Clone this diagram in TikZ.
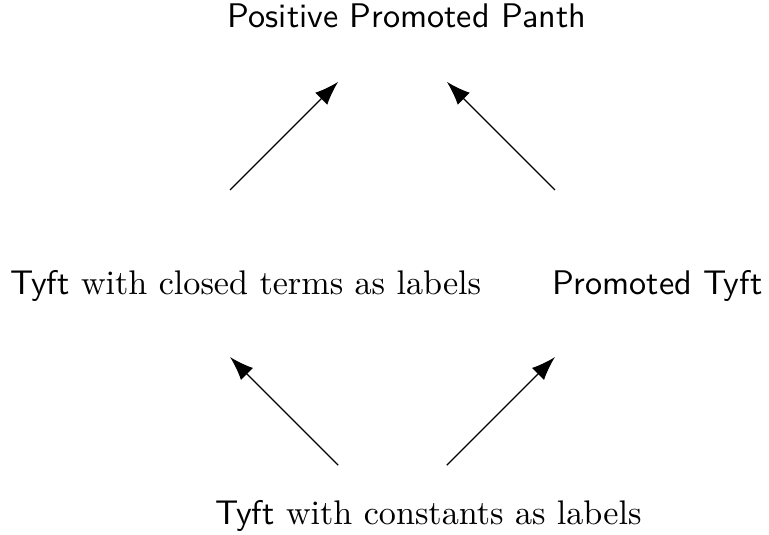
\documentclass[tikz,border=0pt]{standalone}
\usepackage{amsmath}
\usepackage{tikz}
\usetikzlibrary{arrows.meta}
\newcommand{\Tyft}{\textsf{Tyft}}

\begin{document}
\begin{tikzpicture}[>={Latex[length=7pt,width=5pt]}, x=0.2928pt, y=0.2928pt, lbl/.style={inner sep=0pt}]
			\useasboundingbox (0,0) rectangle (769,535);
			\coordinate (top) at (392.5,507.5);
			\coordinate (left) at (146.5,261.5);
			\coordinate (right) at (638.5,261.5);
			\coordinate (bottom) at (392.5,15.5);
			\node[lbl, anchor=base] (ppanth) at (407,507) {\textsf{Positive Promoted Panth}};
			\node[lbl, anchor=base west] (closed) at (10,240) {\Tyft{} with closed terms as labels};
			\node[lbl, anchor=base east] (promo) at (763,240) {\textsf{Promoted Tyft}};
			\node[lbl, anchor=base west] (consts) at (215,10) {\Tyft{} with constants as labels};
			\draw[->, shorten <=34.6pt, shorten >=22.5pt] (left) -- (top);
			\draw[->, shorten <=34.6pt, shorten >=22.5pt] (right) -- (top);
			\draw[->, shorten <=22.5pt, shorten >=34.6pt] (bottom) -- (left);
			\draw[->, shorten <=22.5pt, shorten >=34.6pt] (bottom) -- (right);
\end{tikzpicture}
\end{document}
